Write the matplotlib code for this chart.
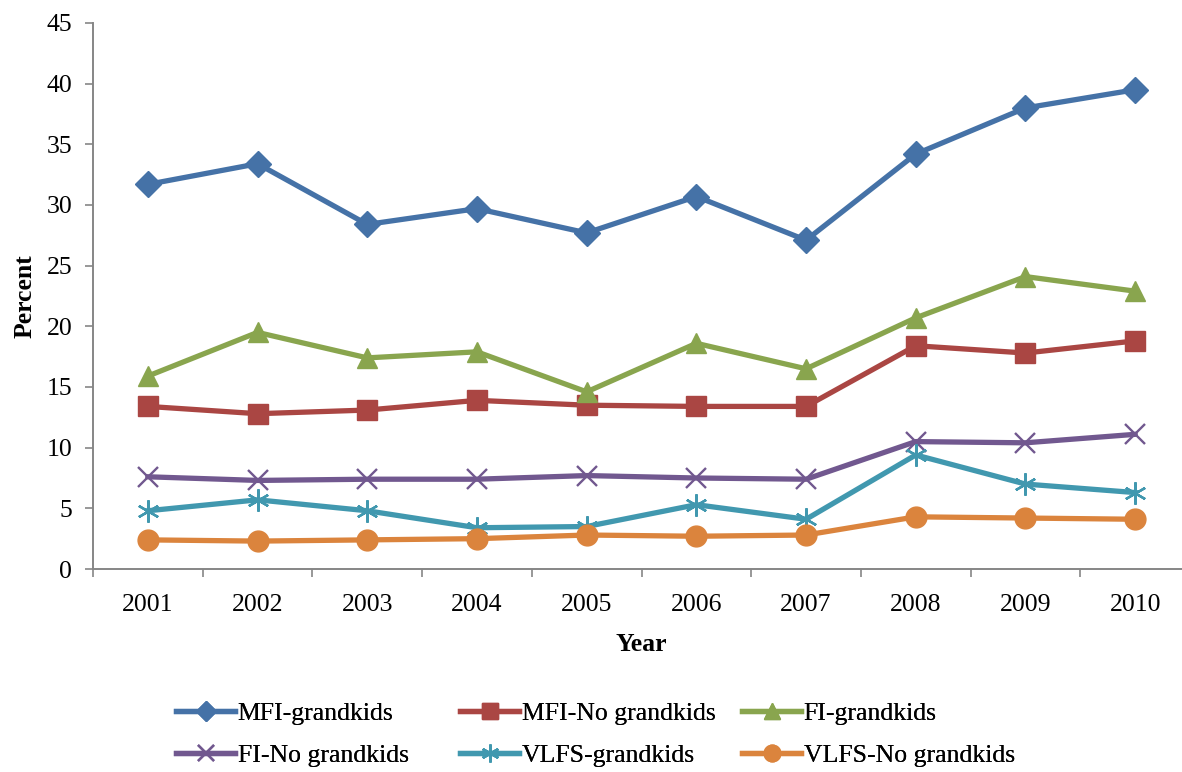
import matplotlib
matplotlib.use("Agg")
import matplotlib.pyplot as plt

years = ["2001", "2002", "2003", "2004", "2005", "2006", "2007", "2008", "2009", "2010"]

mfi_grandkids = [31.7, 33.4, 28.4, 29.7, 27.7, 30.7, 27.1, 34.2, 38.0, 39.5]
mfi_no_grandkids = [13.4, 12.8, 13.1, 13.9, 13.5, 13.4, 13.4, 18.4, 17.8, 18.8]
fi_grandkids = [15.9, 19.5, 17.4, 17.9, 14.6, 18.6, 16.5, 20.7, 24.1, 22.9]
fi_no_grandkids = [7.6, 7.3, 7.4, 7.4, 7.7, 7.5, 7.4, 10.5, 10.4, 11.1]
vlfs_grandkids = [4.8, 5.7, 4.8, 3.4, 3.5, 5.3, 4.1, 9.4, 7.0, 6.3]
vlfs_no_grandkids = [2.4, 2.3, 2.4, 2.5, 2.8, 2.7, 2.8, 4.3, 4.2, 4.1]

series = [
    ("MFI-grandkids", mfi_grandkids, "#4572A7", "D", 13, 0),
    ("MFI-No grandkids", mfi_no_grandkids, "#AA4643", "s", 14, 0),
    ("FI-grandkids", fi_grandkids, "#89A54E", "^", 14, 0),
    ("FI-No grandkids", fi_no_grandkids, "#71588F", "x", 15, 1.7),
    ("VLFS-grandkids", vlfs_grandkids, "#4198AF", (6, 2, 0), 16, 1.7),
    ("VLFS-No grandkids", vlfs_no_grandkids, "#DB843D", "o", 15, 0),
]

plt.rcParams["font.family"] = ["Liberation Serif", "DejaVu Serif"]

W, H = 1182, 772
fig = plt.figure(figsize=(W / 100, H / 100), dpi=100)
ax = fig.add_axes([93 / W, 1 - 569 / H, (1190 - 93) / W, (569 - 23) / H])

x = list(range(len(years)))
handles = []
for label, vals, color, marker, ms, mew in series:
    (h,) = ax.plot(x, vals, color=color, linewidth=3.8, marker=marker,
                   markersize=ms, markeredgewidth=mew if mew else 1.0,
                   markeredgecolor=color, markerfacecolor=color,
                   label=label, solid_joinstyle="round", clip_on=False)
    handles.append(h)

ax.set_xlim(-0.5, len(years) - 0.5)
ax.set_ylim(0, 45)
ax.set_yticks(range(0, 46, 5))
ax.set_xticks(x)
ax.set_xticklabels(years)
ax.set_xticks([i - 0.5 for i in range(len(years) + 1)], minor=True)
ax.tick_params(axis="x", which="major", length=0, pad=18, labelsize=18.5)
ax.tick_params(axis="x", which="minor", length=6, width=1.2, color="#868686")
ax.tick_params(axis="y", length=6, width=1.2, color="#868686", pad=9, labelsize=18.5)

for side in ("top", "right"):
    ax.spines[side].set_visible(False)
for side in ("left", "bottom"):
    ax.spines[side].set_color("#868686")
    ax.spines[side].set_linewidth(1.4)

ax.set_xlabel("Year", fontsize=18.5, fontweight="bold", labelpad=12)
ax.set_ylabel("Percent", fontsize=18.5, fontweight="bold", labelpad=7)

# Legend: three fixed-width columns, two rows, filled row by row
col_left = [176, 460, 742]
for c, left in enumerate(col_left):
    leg = fig.legend(handles=[handles[c], handles[c + 3]],
                     loc="upper left", bbox_to_anchor=(left / W, 1 - 702 / H),
                     frameon=False, fontsize=18.5, handlelength=2.3,
                     handletextpad=0.1, labelspacing=0.75, markerscale=0.8,
                     borderaxespad=0.0, borderpad=0.0)
    fig.add_artist(leg)

fig.savefig("out.png", dpi=100)
